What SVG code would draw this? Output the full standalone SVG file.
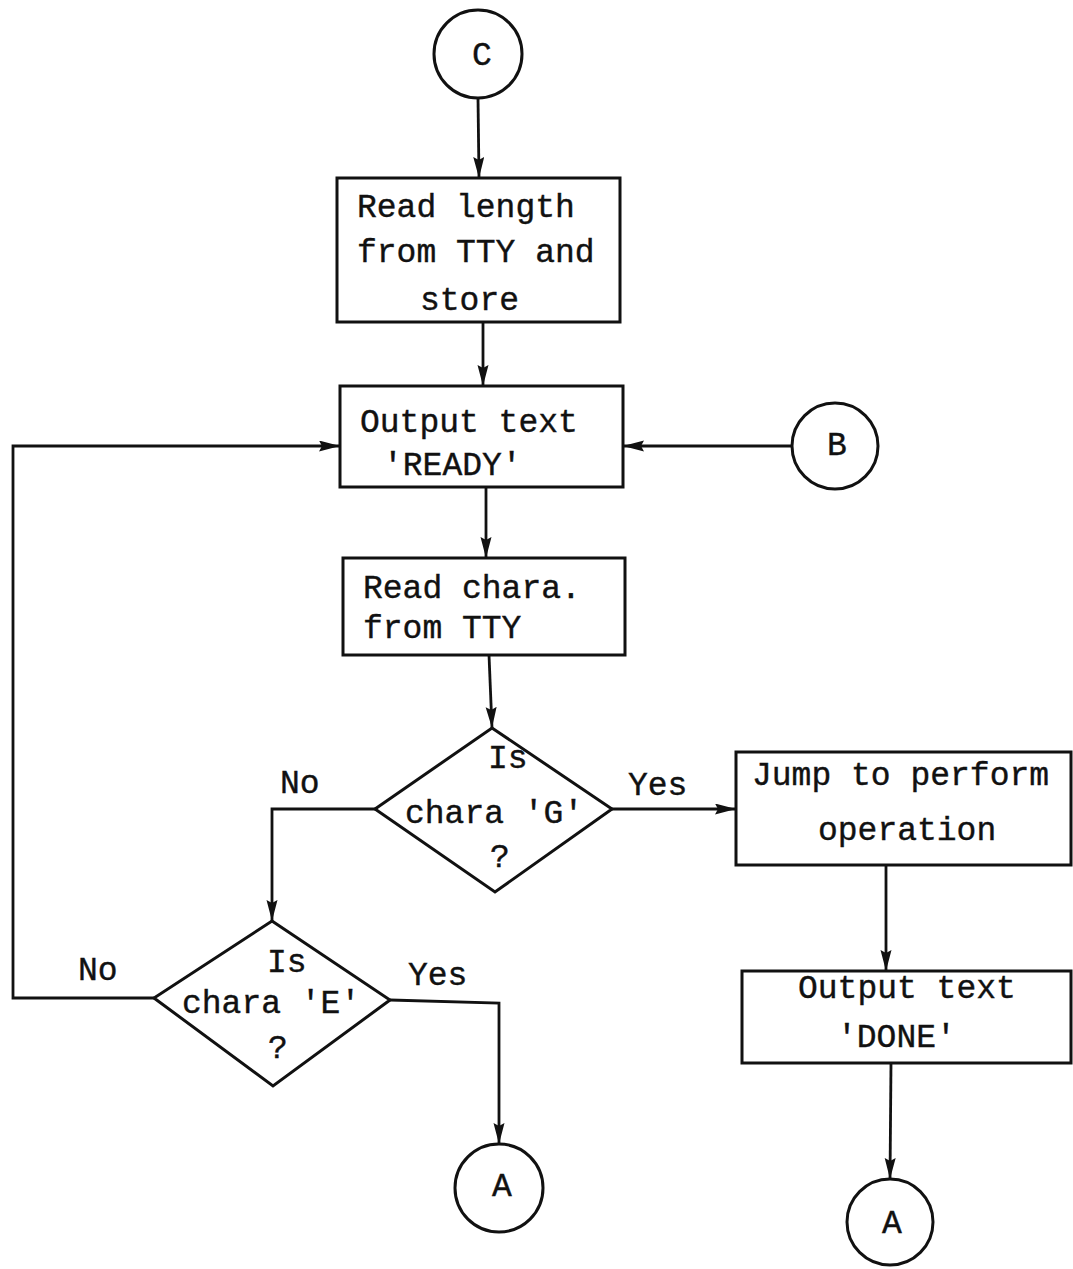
<svg xmlns="http://www.w3.org/2000/svg" width="1073" height="1269" viewBox="0 0 1073 1269">
<style>
.shape{fill:#fff;stroke:#111;stroke-width:3}
.line{fill:none;stroke:#111;stroke-width:2.8}
text{font-family:"Liberation Mono","DejaVu Sans Mono",monospace;font-size:33px;fill:#111;stroke:#111;stroke-width:0.4}
.c{text-anchor:middle}
</style>
<defs>
<marker id="ah" markerUnits="userSpaceOnUse" markerWidth="24" markerHeight="12" refX="21" refY="5.5" orient="auto">
<path d="M0,0 L21,5.5 L0,11 L3,5.5 z" fill="#111"/>
</marker>
</defs>
<rect width="1073" height="1269" fill="#fff"/>
<g id="connectors">
<path class="line" d="M478,98 L479,178" marker-end="url(#ah)"/>
<path class="line" d="M483,322 L483,386" marker-end="url(#ah)"/>
<path class="line" d="M486,487 L486,558" marker-end="url(#ah)"/>
<path class="line" d="M489,655 L492,728" marker-end="url(#ah)"/>
<path class="line" d="M612,809 L736,809" marker-end="url(#ah)"/>
<path class="line" d="M886,865 L886,971" marker-end="url(#ah)"/>
<path class="line" d="M891,1063 L890,1179" marker-end="url(#ah)"/>
<path class="line" d="M375,809 L272,809 L272,921" marker-end="url(#ah)"/>
<path class="line" d="M390,1000 L499,1003 L499,1144" marker-end="url(#ah)"/>
<path class="line" d="M154,998 L13,998 L13,446 L340,446" marker-end="url(#ah)"/>
<path class="line" d="M792,446 L623,446" marker-end="url(#ah)"/>
<text x="280" y="793">No</text>
<text x="628" y="795">Yes</text>
<text x="78" y="980">No</text>
<text x="408" y="985">Yes</text>
</g>
<g id="nodeC">
<circle class="shape" cx="478" cy="54" r="44"/>
<text class="c" x="482" y="65">C</text>
</g>
<g id="readLength">
<rect class="shape" x="337" y="178" width="283" height="144"/>
<text x="357" y="217">Read length</text>
<text x="357" y="262">from TTY and</text>
<text x="420" y="310">store</text>
</g>
<g id="outputReady">
<rect class="shape" x="340" y="386" width="283" height="101"/>
<text x="360" y="432">Output text</text>
<text x="383" y="475">'READY'</text>
</g>
<g id="nodeB">
<circle class="shape" cx="835" cy="446" r="43"/>
<text class="c" x="837" y="455">B</text>
</g>
<g id="readChara">
<rect class="shape" x="343" y="558" width="282" height="97"/>
<text x="363" y="598">Read chara.</text>
<text x="363" y="638">from TTY</text>
</g>
<g id="isG">
<polygon class="shape" points="492,728 612,809 495,892 375,809"/>
<text x="488" y="768">Is</text>
<text x="405" y="823">chara 'G'</text>
<text x="490" y="867">?</text>
</g>
<g id="jump">
<rect class="shape" x="736" y="752" width="335" height="113"/>
<text x="752" y="785">Jump to perform</text>
<text x="818" y="840">operation</text>
</g>
<g id="isE">
<polygon class="shape" points="272,921 390,1000 273,1086 154,998"/>
<text x="267" y="972">Is</text>
<text x="182" y="1013">chara 'E'</text>
<text x="268" y="1058">?</text>
</g>
<g id="outputDone">
<rect class="shape" x="742" y="971" width="329" height="92"/>
<text x="798" y="998">Output text</text>
<text x="837" y="1047">'DONE'</text>
</g>
<g id="nodeA1">
<circle class="shape" cx="499" cy="1188" r="44"/>
<text class="c" x="502" y="1196">A</text>
</g>
<g id="nodeA2">
<circle class="shape" cx="890" cy="1222" r="43"/>
<text class="c" x="892" y="1233">A</text>
</g>
</svg>
